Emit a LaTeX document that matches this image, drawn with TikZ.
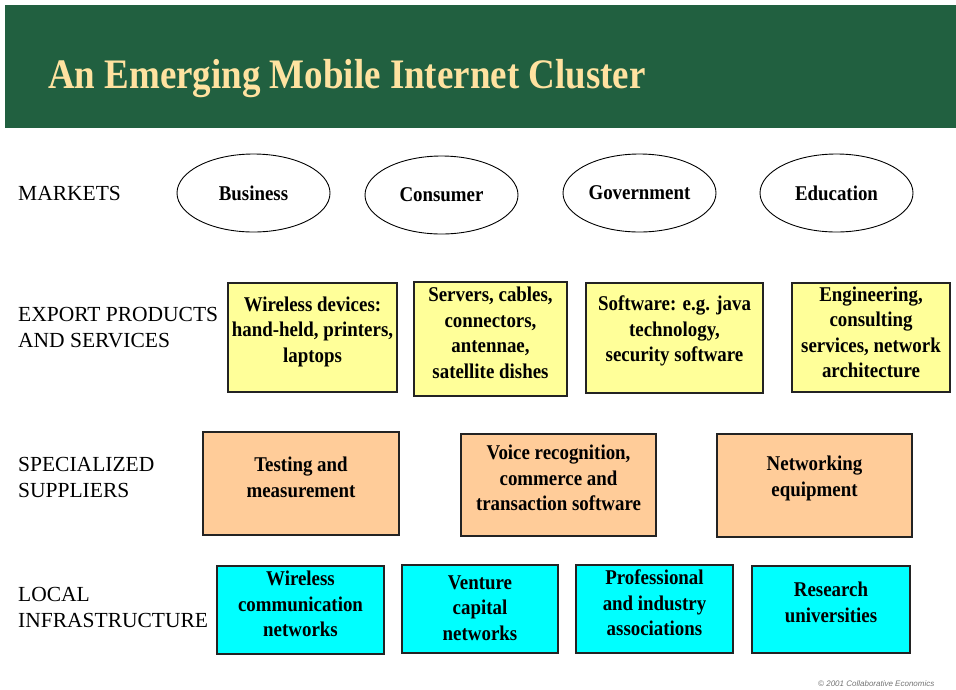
\documentclass[tikz,border=0pt]{standalone}
\usepackage{fontspec}
\setmainfont{Liberation Serif}
\newfontfamily\condfont[FakeStretch=0.9]{Liberation Serif}
\newfontfamily\titlefont[FakeStretch=0.88]{Liberation Serif}
\newfontfamily\notefont{Liberation Sans}
\definecolor{bannergreen}{RGB}{33,96,64}
\definecolor{titlecream}{RGB}{255,226,160}
\definecolor{exportyellow}{RGB}{255,255,153}
\definecolor{supplierorange}{RGB}{255,204,153}
\definecolor{infracyan}{RGB}{0,255,255}
\definecolor{edgegray}{RGB}{35,35,35}
\tikzset{
  rowlabel/.style={anchor=west, align=left, inner sep=0pt,
    font=\fontsize{21.5}{26}\selectfont},
  cellbox/.style={draw=edgegray, line width=1.3pt, inner sep=0pt},
  exportbox/.style={cellbox, fill=exportyellow},
  supplierbox/.style={cellbox, fill=supplierorange},
  infrabox/.style={cellbox, fill=infracyan},
  market/.style={draw=black, line width=0.9pt, ellipse, minimum width=153pt,
    minimum height=78pt, inner sep=0pt},
  celltext/.style={align=center, inner sep=0pt,
    font=\condfont\bfseries\fontsize{21}{25.5}\selectfont},
}
\usetikzlibrary{shapes.geometric}
\begin{document}
\begin{tikzpicture}[x=1pt, y=-1pt]
\useasboundingbox (0,0) rectangle (956,689);

% title banner
\fill[bannergreen] (5,5) rectangle (956,128);
\node[anchor=base west, inner sep=0pt, text=titlecream,
  font=\titlefont\bfseries\fontsize{42}{50}\selectfont] (title) at (48,88)
  {An Emerging Mobile Internet Cluster};

% row labels
\node[rowlabel] (lmarkets) at (18,193) {MARKETS};
\node[rowlabel] (lexport) at (18,328) {EXPORT PRODUCTS\\AND SERVICES};
\node[rowlabel] (lsupp) at (18,477) {SPECIALIZED\\SUPPLIERS};
\node[rowlabel] (linfra) at (18,607) {LOCAL\\INFRASTRUCTURE};

% markets
\node[market, celltext] (mbus) at (253.5,193) {Business};
\node[market, celltext] (mcon) at (441.5,195) {Consumer};
\node[market, celltext] (mgov) at (639.5,193) {Government};
\node[market, celltext] (medu) at (836.5,193) {Education};

% export products and services
\node[exportbox, minimum width=169pt, minimum height=109pt] (e1) at (312.5,337.5) {};
\node[exportbox, minimum width=153pt, minimum height=114pt] (e2) at (490.5,339) {};
\node[exportbox, minimum width=177pt, minimum height=110pt] (e3) at (674.5,338) {};
\node[exportbox, minimum width=158pt, minimum height=109pt] (e4) at (871,337.5) {};
\node[celltext] (e1t) at ([yshift=6pt]e1.center) {Wireless devices:\\hand-held, printers,\\laptops};
\node[celltext] (e2t) at ([yshift=6pt]e2.center) {Servers, cables,\\connectors,\\antennae,\\satellite dishes};
\node[celltext] (e3t) at ([yshift=7pt]e3.center) {Software: e.g. java\\technology,\\security software};
\node[celltext] (e4t) at ([yshift=5pt]e4.center) {Engineering,\\consulting\\services, network\\architecture};

% specialized suppliers
\node[supplierbox, minimum width=196pt, minimum height=103pt] (s1) at (301,483.5) {};
\node[supplierbox, minimum width=195pt, minimum height=102pt] (s2) at (558.5,485) {};
\node[supplierbox, minimum width=195pt, minimum height=103pt] (s3) at (814.5,485.5) {};
\node[celltext] (s1t) at ([yshift=6pt]s1.center) {Testing and\\measurement};
\node[celltext] (s2t) at ([yshift=7pt]s2.center) {Voice recognition,\\commerce and\\transaction software};
\node[celltext] (s3t) at ([yshift=7pt]s3.center) {Networking\\equipment};

% local infrastructure
\node[infrabox, minimum width=167pt, minimum height=88pt] (i1) at (300.5,610) {};
\node[infrabox, minimum width=156pt, minimum height=88pt] (i2) at (480,609) {};
\node[infrabox, minimum width=157pt, minimum height=88pt] (i3) at (654.5,609) {};
\node[infrabox, minimum width=158pt, minimum height=87pt] (i4) at (831,609.5) {};
\node[celltext] (i1t) at ([yshift=6pt]i1.center) {Wireless\\communication\\networks};
\node[celltext] (i2t) at ([yshift=1pt]i2.center) {Venture\\capital\\networks};
\node[celltext] (i3t) at ([yshift=6pt]i3.center) {Professional\\and industry\\associations};
\node[celltext] (i4t) at ([yshift=7pt]i4.center) {Research\\universities};

% footnote
\node[anchor=base west, inner sep=0pt, text=black!55,
  font=\notefont\itshape\fontsize{8}{9}\selectfont] (credit) at (818,686.5)
  {\textcopyright{} 2001 Collaborative Economics};
\end{tikzpicture}
\end{document}
